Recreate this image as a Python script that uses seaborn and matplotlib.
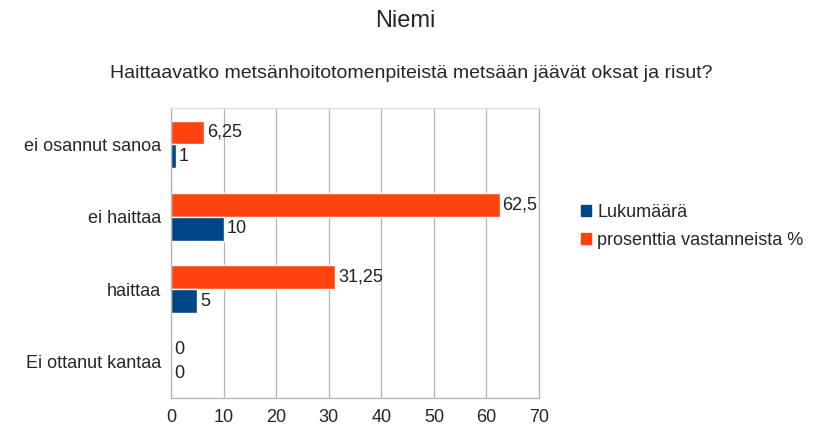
import numpy as np
import pandas as pd
import matplotlib
matplotlib.use("Agg")
import matplotlib.pyplot as plt
import seaborn as sns
from matplotlib.patches import Patch

categories = ["ei osannut sanoa", "ei haittaa", "haittaa", "Ei ottanut kantaa"]
lukumaara = [1, 10, 5, 0]
prosentti = [6.25, 62.5, 31.25, 0]
series_names = ["prosenttia vastanneista %", "Lukumäärä"]
colors = {"Lukumäärä": "#004586", "prosenttia vastanneista %": "#FF420E"}
xticks = [0, 10, 20, 30, 40, 50, 60, 70]

df = pd.DataFrame({
    "kategoria": categories * 2,
    "arvo": prosentti + lukumaara,
    "sarja": [series_names[0]] * 4 + [series_names[1]] * 4,
})

sns.set_style("white")
plt.rcParams["font.family"] = ["Liberation Sans", "DejaVu Sans"]

fs = 13
fig = plt.figure(figsize=(8.23, 4.36), dpi=100)
ax = fig.add_axes([0.2078, 0.0872, 0.4472, 0.6646])

sns.barplot(data=df, y="kategoria", x="arvo", hue="sarja", order=categories,
            hue_order=series_names, palette=colors, orient="h", width=0.66,
            saturation=1, legend=False, ax=ax)

def fmt(v):
    s = f"{v:g}"
    return s.replace(".", ",")

for cont in ax.containers:
    labels = [fmt(r.get_width()) for r in cont]
    ax.bar_label(cont, labels=labels, padding=2, fontsize=fs, color="#222222")

ax.set_xlim(0, 70)
ax.set_xticks(xticks)
ax.set_ylim(3.5, -0.5)
ax.set_yticks(range(len(categories)))
ax.set_yticklabels(categories)
ax.set_yticks([-0.5, 0.5, 1.5, 2.5, 3.5], minor=True)
ax.tick_params(axis="y", which="major", length=0, pad=7, labelsize=fs)
ax.tick_params(axis="y", which="minor", length=5, color="#b3b3b3", width=1)
ax.tick_params(axis="x", length=5, color="#b3b3b3", labelsize=fs, pad=3)
ax.set_xlabel("")
ax.set_ylabel("")
ax.grid(axis="x", color="#b3b3b3", linewidth=0.9)
ax.set_axisbelow(True)
for side in ["top", "right", "left", "bottom"]:
    ax.spines[side].set_color("#b3b3b3")
    ax.spines[side].set_linewidth(0.9)
ax.spines["top"].set_color("#dddddd")

fig.text(0.493, 0.952, "Niemi", ha="center", va="center", fontsize=17)
fig.text(0.5, 0.832, "Haittaavatko metsänhoitotomenpiteistä metsään jäävät oksat ja risut?",
         ha="center", va="center", fontsize=14)

handles = [Patch(color=colors["Lukumäärä"]), Patch(color=colors["prosenttia vastanneista %"])]
fig.legend(handles, ["Lukumäärä", "prosenttia vastanneista %"], loc="center left",
           bbox_to_anchor=(0.686, 0.48), frameon=False, fontsize=fs,
           handlelength=0.55, handleheight=0.55, handletextpad=0.35, labelspacing=0.6)

fig.savefig("out.png", dpi=100)
